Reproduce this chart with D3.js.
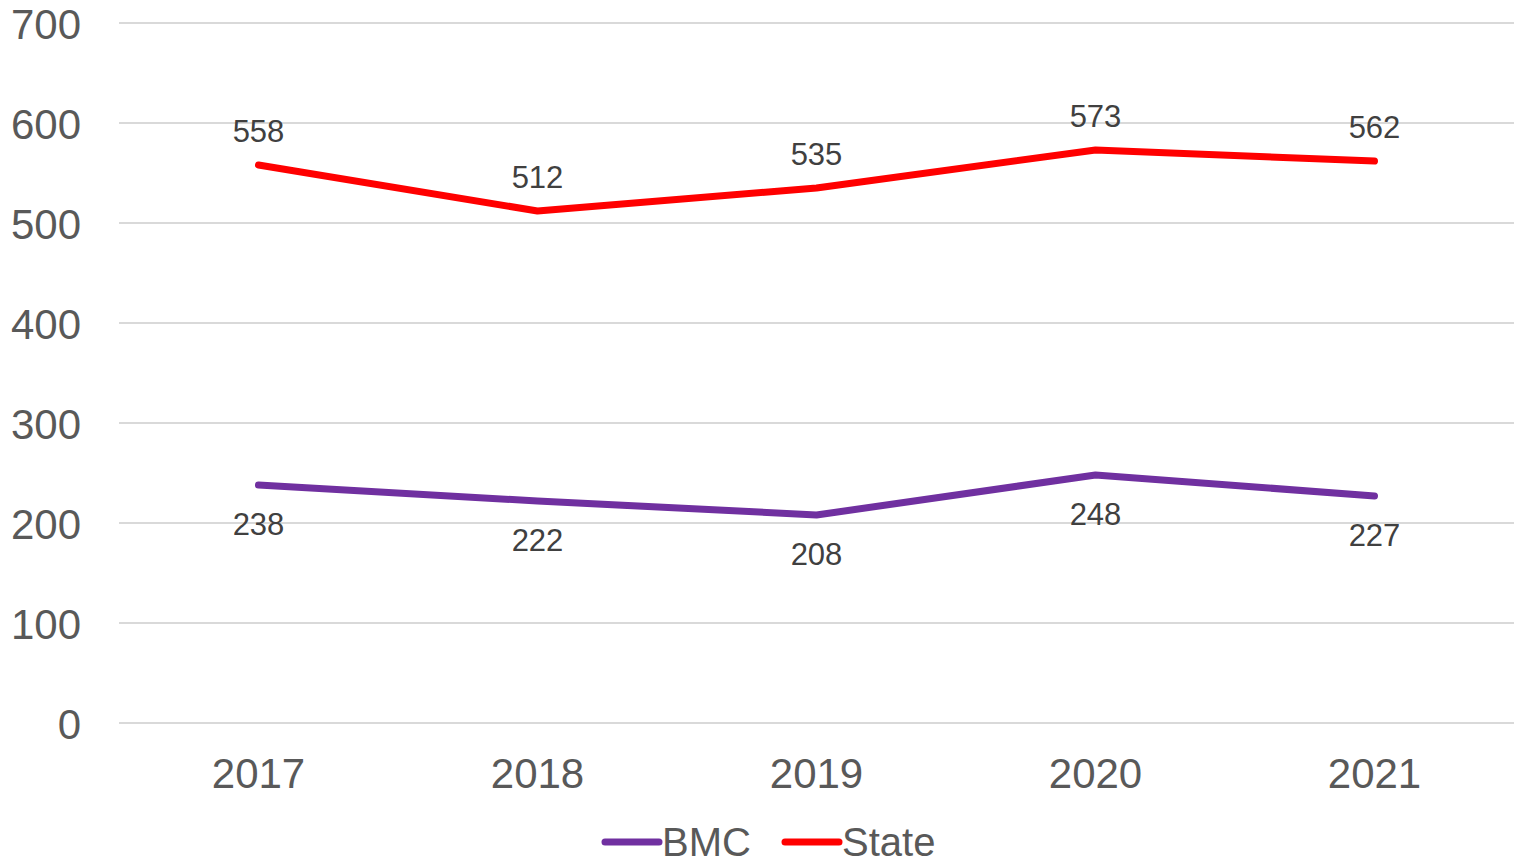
<!DOCTYPE html>
<html>
<head>
<meta charset="utf-8">
<script src="https://cdn.jsdelivr.net/npm/d3@7"></script>
<style>
  body { margin: 0; background: #fff; }
  text { font-family: "Liberation Sans", Arial, sans-serif; }
</style>
</head>
<body>
<svg id="chart" width="1516" height="865"></svg>
<script>
const years = ["2017", "2018", "2019", "2020", "2021"];
const bmc = [238, 222, 208, 248, 227];
const state = [558, 512, 535, 573, 562];
const yTicks = [0, 100, 200, 300, 400, 500, 600, 700];

const series = [
  { name: "BMC", values: bmc, color: "#7030A0", labelPos: "below" },
  { name: "State", values: state, color: "#FF0000", labelPos: "above" }
];

const width = 1516;
const margin = { left: 119, right: 2, top: 23, bottom: 142 };
const height = 865;

const svg = d3.select("#chart");

const x = d3.scaleBand()
  .domain(years)
  .range([margin.left, width - margin.right]);

const y = d3.scaleLinear()
  .domain([0, 700])
  .range([height - margin.bottom, margin.top]);

// gridlines
svg.append("g")
  .attr("class", "grid")
  .selectAll("line")
  .data(yTicks)
  .enter()
  .append("line")
  .attr("x1", margin.left)
  .attr("x2", width - margin.right)
  .attr("y1", d => y(d))
  .attr("y2", d => y(d))
  .style("stroke", "#D9D9D9")
  .style("stroke-width", 2);

// y axis labels
const yAxis = d3.axisLeft(y).tickValues(yTicks).tickSize(0).tickPadding(0);
const gy = svg.append("g")
  .attr("transform", "translate(81,0)")
  .call(yAxis);
gy.select(".domain").remove();
gy.selectAll("text")
  .attr("dy", "0.36em")
  .style("font-family", "Liberation Sans, Arial, sans-serif")
  .style("font-size", "42px")
  .style("fill", "#595959");

// x axis labels
const xAxis = d3.axisBottom(x).tickSize(0).tickPadding(0);
const gx = svg.append("g")
  .attr("transform", "translate(0," + y(0) + ")")
  .call(xAxis);
gx.select(".domain").remove();
gx.selectAll("text")
  .attr("dy", null)
  .attr("y", 65)
  .style("font-family", "Liberation Sans, Arial, sans-serif")
  .style("font-size", "42px")
  .style("fill", "#595959");

const cx = d => x(d) + x.bandwidth() / 2;

const line = d3.line()
  .x((d, i) => cx(years[i]))
  .y(d => y(d));

series.forEach(s => {
  svg.append("path")
    .datum(s.values)
    .attr("d", line)
    .style("fill", "none")
    .style("stroke", s.color)
    .style("stroke-width", 7)
    .style("stroke-linecap", "round")
    .style("stroke-linejoin", "round");

  svg.append("g")
    .selectAll("text")
    .data(s.values)
    .enter()
    .append("text")
    .attr("x", (d, i) => cx(years[i]))
    .attr("y", d => s.labelPos === "above" ? y(d) - 23 : y(d) + 50)
    .attr("text-anchor", "middle")
    .text(d => d)
    .style("font-size", "31px")
    .style("fill", "#404040");
});

// legend
const legend = svg.append("g").attr("transform", "translate(0,842)");
const legendItems = [
  { name: "BMC", color: "#7030A0", x: 605 },
  { name: "State", color: "#FF0000", x: 785 }
];
legendItems.forEach(item => {
  legend.append("line")
    .attr("x1", item.x)
    .attr("x2", item.x + 54)
    .attr("y1", 0)
    .attr("y2", 0)
    .style("stroke", item.color)
    .style("stroke-width", 7)
    .style("stroke-linecap", "round");
  legend.append("text")
    .attr("x", item.x + 57)
    .attr("y", 14)
    .text(item.name)
    .style("font-size", "40px")
    .style("fill", "#595959");
});
</script>
</body>
</html>
